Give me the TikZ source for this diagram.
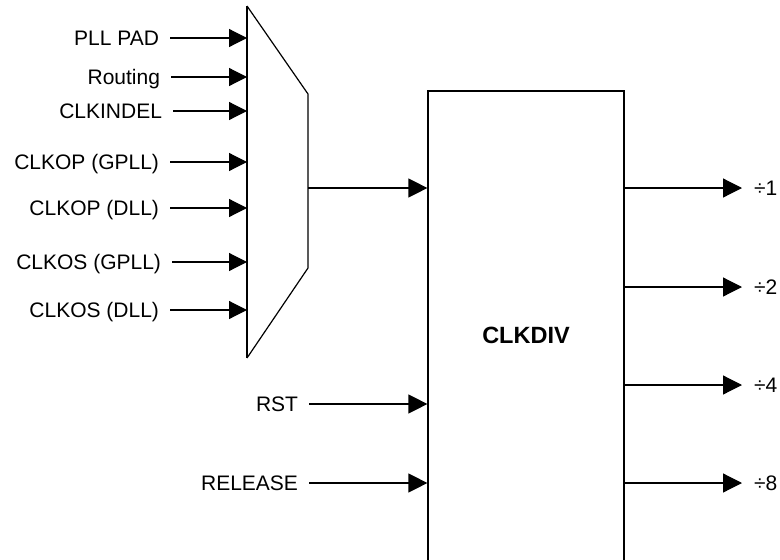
\documentclass[tikz,border=0pt]{standalone}
\usepackage{fontspec}
\setmainfont{Liberation Sans}
\usetikzlibrary{arrows.meta}
\begin{document}
\begin{tikzpicture}[x=1pt,y=-1pt,
  wire/.style={line width=1.2pt},
  sig/.style={wire,-{Triangle[length=18pt,width=18pt]}},
  bigsig/.style={wire,-{Triangle[length=19pt,width=19pt]}},
  lbltext/.style={inner xsep=0pt,inner ysep=0pt,text height=15pt,text depth=0pt,
    font=\fontsize{21}{25}\selectfont},
  inlbl/.style={lbltext,outer xsep=11pt,anchor=east},
  outlbl/.style={lbltext,outer xsep=12pt,anchor=west},
]
\useasboundingbox (0,0) rectangle (780,560);
\clip (0,0) rectangle (780,560);

% divider block, running off the bottom edge
\node[draw,line width=1.2pt,minimum width=196pt,minimum height=489pt,inner sep=0pt,
      font=\bfseries\fontsize{23.5}{28}\selectfont] (div) at (526,335.5) {CLKDIV};

% clock-select multiplexer
\coordinate (mT)  at (247,6);
\coordinate (mB)  at (247,358);
\coordinate (mTR) at (308,94);
\coordinate (mBR) at (308,268);
\draw[wire] (mT) -- (mTR) -- (mBR) -- (mB);
\draw[line width=2.4pt] (mT) -- (mB);

% multiplexer inputs
\coordinate (in1) at (247,38);
\coordinate (in2) at (247,77);
\coordinate (in3) at (247,111);
\coordinate (in4) at (247,162);
\coordinate (in5) at (247,208);
\coordinate (in6) at (247,262);
\coordinate (in7) at (247,310);
\node[inlbl] (pll)    at (170,38)  {PLL PAD};
\node[inlbl] (route)  at (171,77)  {Routing};
\node[inlbl] (indel)  at (173,111) {CLKINDEL};
\node[inlbl] (opg)    at (170,162) {CLKOP (GPLL)};
\node[inlbl] (opd)    at (170,208) {CLKOP (DLL)};
\node[inlbl] (osg)    at (172,262) {CLKOS (GPLL)};
\node[inlbl] (osd)    at (170,310) {CLKOS (DLL)};
\draw[sig] (pll.east)   -- (in1);
\draw[sig] (route.east) -- (in2);
\draw[sig] (indel.east) -- (in3);
\draw[sig] (opg.east)   -- (in4);
\draw[sig] (opd.east)   -- (in5);
\draw[sig] (osg.east)   -- (in6);
\draw[sig] (osd.east)   -- (in7);

% multiplexer output into the divider
\coordinate (mout) at (308,188);
\draw[bigsig] (mout) -- (mout -| div.west);

% control inputs
\node[inlbl] (rst) at (309,404) {RST};
\node[inlbl] (rel) at (309,483) {RELEASE};
\draw[bigsig] (rst.east) -- (rst.east -| div.west);
\draw[bigsig] (rel.east) -- (rel.east -| div.west);

% divided clock outputs
\node[outlbl] (d1) at (742,188) {÷1};
\node[outlbl] (d2) at (742,287) {÷2};
\node[outlbl] (d4) at (742,385) {÷4};
\node[outlbl] (d8) at (742,483) {÷8};
\draw[bigsig] (div.east |- d1.west) -- (d1.west);
\draw[bigsig] (div.east |- d2.west) -- (d2.west);
\draw[bigsig] (div.east |- d4.west) -- (d4.west);
\draw[bigsig] (div.east |- d8.west) -- (d8.west);
\end{tikzpicture}
\end{document}
